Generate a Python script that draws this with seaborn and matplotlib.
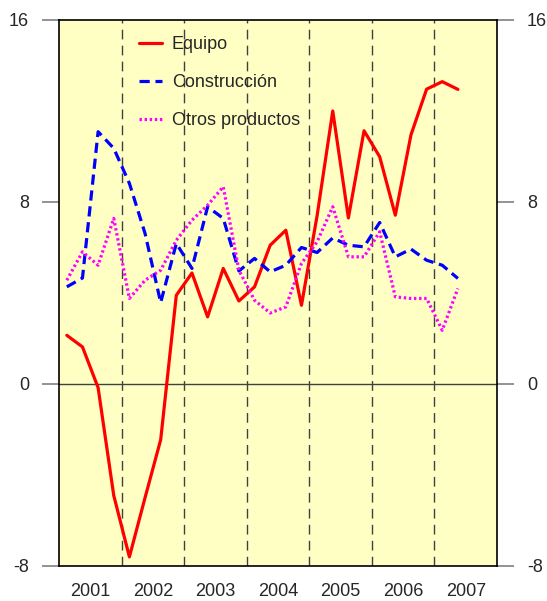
import numpy as np
import pandas as pd
import matplotlib
matplotlib.use("Agg")
import matplotlib.pyplot as plt
import seaborn as sns

# quarterly data, 2001Q1 .. 2007Q2
years = [2001, 2002, 2003, 2004, 2005, 2006, 2007]
n_quarters = 26

equipo = [2.14, 1.63, -0.16, -4.9, -7.6, -5.0, -2.45, 3.9, 4.88, 2.95, 5.08, 3.65, 4.27,
          6.1, 6.76, 3.46, 7.4, 12.0, 7.3, 11.13, 9.99, 7.42, 10.95, 12.96, 13.29, 12.95]
construccion = [4.27, 4.66, 11.09, 10.36, 8.82, 6.62, 3.58, 6.18, 5.08, 7.79, 7.28, 4.97, 5.52,
                4.93, 5.22, 6.0, 5.78, 6.42, 6.1, 6.03, 7.1, 5.59, 5.93, 5.44, 5.22, 4.64]
otros = [4.56, 5.81, 5.22, 7.28, 3.76, 4.56, 5.0, 6.32, 7.2, 7.86, 8.67, 5.0, 3.68,
         3.12, 3.39, 5.3, 6.25, 7.79, 5.59, 5.59, 6.69, 3.83, 3.76, 3.76, 2.36, 4.2]

y_ticks = [-8, 0, 8, 16]

# position of each quarter (middle of the quarter)
t = [years[0] + (i + 0.5) / 4 for i in range(n_quarters)]

df = pd.DataFrame({
    "t": t * 3,
    "valor": equipo + construccion + otros,
    "serie": ["Equipo"] * n_quarters + ["Construcción"] * n_quarters + ["Otros productos"] * n_quarters,
})

sns.set_style("white")
plt.rcParams["font.family"] = ["Liberation Sans", "DejaVu Sans"]

fig = plt.figure(figsize=(5.47, 6.01), dpi=100)
ax = fig.add_axes([59 / 547, 1 - 566 / 601, 438 / 547, 546 / 601])
ax.set_facecolor("#ffffc4")

styles = {
    "Equipo": ("#ff0000", None),
    "Construcción": ("#0000ff", (3.2, 1.8)),
    "Otros productos": ("#ff00ff", (0.75, 0.85)),
}

for name, (color, dash) in styles.items():
    sub = df[df["serie"] == name]
    sns.lineplot(data=sub, x="t", y="valor", color=color, linewidth=2.3,
                 label=name, ax=ax, sort=False)
    line = ax.lines[-1]
    if dash is not None:
        line.set_dashes(dash)

# year separators and zero line
for yr in years[1:]:
    ax.axvline(yr, color="#404040", linewidth=1.0, dashes=(7, 4.5), zorder=1)
ax.axhline(0, color="#404040", linewidth=1.0, zorder=1)

ax.set_xlim(years[0], years[-1] + 1)
ax.set_ylim(-8, 16)
ax.set_xticks([y + 0.5 for y in years])
ax.set_xticklabels([str(y) for y in years])
ax.set_yticks(y_ticks)
ax.set_yticklabels([str(v) for v in y_ticks])
ax.set_xlabel("")
ax.set_ylabel("")

ax.tick_params(axis="x", length=0, pad=12, labelsize=13)
ax.tick_params(axis="y", direction="out", length=12.5, width=1.2, color="#808080",
               pad=9, labelsize=13, left=True, right=True, labelleft=True, labelright=True)

for side in ["left", "right", "top", "bottom"]:
    ax.spines[side].set_visible(True)
    ax.spines[side].set_color("black")
    ax.spines[side].set_linewidth(1.2)

ax.legend(loc="upper left", bbox_to_anchor=(0.183, 0.97), frameon=False, fontsize=13,
          handlelength=1.25, handletextpad=0.55, labelspacing=1.16,
          borderpad=0, borderaxespad=0)

fig.savefig("out.png", dpi=100)
